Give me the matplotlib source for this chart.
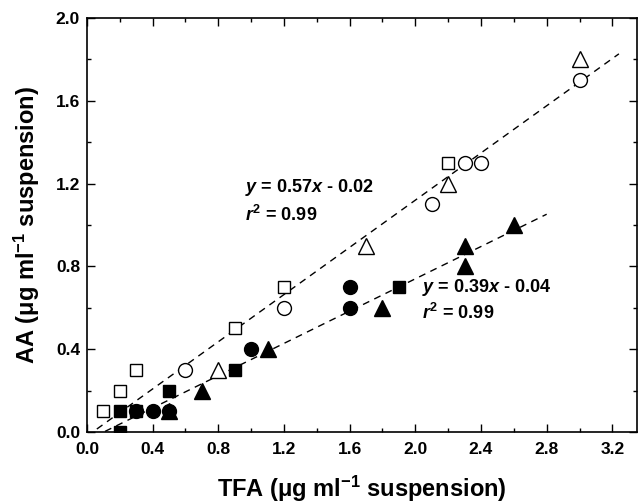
import numpy as np
import matplotlib
matplotlib.use("Agg")
import matplotlib.pyplot as plt
from matplotlib.ticker import MultipleLocator

plt.rcParams['font.family'] = ['Liberation Sans', 'DejaVu Sans']
plt.rcParams['font.weight'] = 'bold'
plt.rcParams['mathtext.fontset'] = 'custom'
plt.rcParams['mathtext.rm'] = 'Liberation Sans:bold'
plt.rcParams['mathtext.it'] = 'Liberation Sans:bold:italic'
plt.rcParams['mathtext.bf'] = 'Liberation Sans:bold'

# open symbols (upper fit)
open_sq_x = [0.1, 0.2, 0.3, 0.9, 1.2, 2.2]
open_sq_y = [0.1, 0.2, 0.3, 0.5, 0.7, 1.3]
open_ci_x = [0.6, 1.2, 2.1, 2.3, 2.4, 3.0]
open_ci_y = [0.3, 0.6, 1.1, 1.3, 1.3, 1.7]
open_tr_x = [0.8, 1.7, 2.2, 3.0]
open_tr_y = [0.3, 0.9, 1.2, 1.8]

# filled symbols (lower fit)
fill_sq_x = [0.2, 0.2, 0.3, 0.5, 0.9, 1.9]
fill_sq_y = [0.0, 0.1, 0.1, 0.2, 0.3, 0.7]
fill_ci_x = [0.3, 0.4, 0.5, 1.0, 1.6, 1.6]
fill_ci_y = [0.1, 0.1, 0.1, 0.4, 0.6, 0.7]
fill_tr_x = [0.5, 0.7, 1.1, 1.8, 2.3, 2.3, 2.6]
fill_tr_y = [0.1, 0.2, 0.4, 0.6, 0.8, 0.9, 1.0]

# regression lines
upper_fit = (0.57, -0.02, 0.06, 3.24)
lower_fit = (0.39, -0.04, 0.11, 2.80)

fig = plt.figure(figsize=(6.41, 5.03), dpi=100)
ax = fig.add_axes([0.1357, 0.1412, 0.858, 0.823])

for m, b, x0, x1 in (upper_fit, lower_fit):
    xs = np.array([x0, x1])
    ax.plot(xs, m * xs + b, color='black', lw=1.0, dashes=(5, 4), zorder=1)

ax.plot(open_sq_x, open_sq_y, 's', ms=9, mfc='white', mec='black', mew=1.0, ls='none')
ax.plot(open_ci_x, open_ci_y, 'o', ms=10, mfc='white', mec='black', mew=1.0, ls='none')
ax.plot(open_tr_x, open_tr_y, '^', ms=11, mfc='white', mec='black', mew=1.0, ls='none')
ax.plot(fill_sq_x, fill_sq_y, 's', ms=9, color='black', ls='none')
ax.plot(fill_ci_x, fill_ci_y, 'o', ms=10, color='black', ls='none')
ax.plot(fill_tr_x, fill_tr_y, '^', ms=11, color='black', ls='none')

ax.text(0.96, 1.18, r'$y$ = 0.57$x$ - 0.02', fontsize=13, fontweight='bold', va='center')
ax.text(0.96, 1.05, r'$r^2$ = 0.99', fontsize=13, fontweight='bold', va='center')
ax.text(2.04, 0.70, r'$y$ = 0.39$x$ - 0.04', fontsize=13, fontweight='bold', va='center')
ax.text(2.04, 0.575, r'$r^2$ = 0.99', fontsize=13, fontweight='bold', va='center')

ax.set_xlim(0, 3.35)
ax.set_ylim(0, 2.0)
ax.xaxis.set_major_locator(MultipleLocator(0.4))
ax.xaxis.set_minor_locator(MultipleLocator(0.2))
ax.yaxis.set_major_locator(MultipleLocator(0.4))
ax.yaxis.set_minor_locator(MultipleLocator(0.2))
ax.xaxis.set_major_formatter(plt.FormatStrFormatter('%.1f'))
ax.yaxis.set_major_formatter(plt.FormatStrFormatter('%.1f'))
ax.tick_params(which='both', direction='in', top=True, right=True, width=1.0, labelsize=12.5)
ax.tick_params(which='major', length=6)
ax.tick_params(which='minor', length=3)
ax.tick_params(axis='x', pad=7)
ax.tick_params(axis='y', pad=5)
for s in ax.spines.values():
    s.set_linewidth(1.2)

ax.set_xlabel(r'TFA ($\mathregular{\mu}$g ml$^{\mathregular{-1}}$ suspension)', fontsize=17, fontweight='bold', labelpad=12)
ax.set_ylabel(r'AA ($\mathregular{\mu}$g ml$^{\mathregular{-1}}$ suspension)', fontsize=17, fontweight='bold', labelpad=10)

fig.savefig('out.png', dpi=100)
